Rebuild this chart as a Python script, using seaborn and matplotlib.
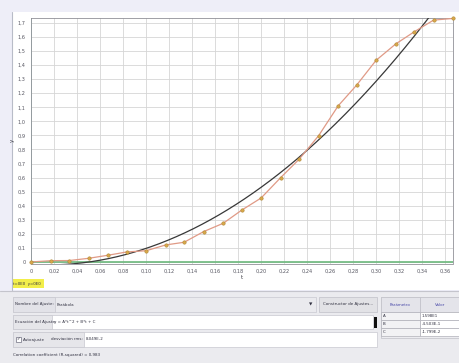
import numpy as np
import pandas as pd
import matplotlib
matplotlib.use("Agg")
import matplotlib.pyplot as plt
import seaborn as sns
from matplotlib.patches import Rectangle

# Measured position of the falling object (t in s, y in m)
t_vals = [0.000, 0.017, 0.033, 0.050, 0.067, 0.083, 0.100, 0.117, 0.133, 0.150,
          0.167, 0.183, 0.200, 0.217, 0.233, 0.250, 0.267, 0.283, 0.300, 0.317,
          0.333, 0.350, 0.367]
y_vals = [0.000, 0.009, 0.010, 0.026, 0.048, 0.071, 0.080, 0.121, 0.140, 0.216,
          0.275, 0.368, 0.455, 0.600, 0.730, 0.898, 1.110, 1.257, 1.434, 1.550,
          1.636, 1.720, 1.732]

# Parabolic fit parameters  y = A*t^2 + B*t + C
param_names = ["A", "B", "C"]
param_values = [1.598e1, -4.503e-1, -1.799e-2]
param_labels = ["1.598E1", "-4.503E-1", "-1.799E-2"]

x_ticks = [0.00, 0.02, 0.04, 0.06, 0.08, 0.10, 0.12, 0.14, 0.16, 0.18,
           0.20, 0.22, 0.24, 0.26, 0.28, 0.30, 0.32, 0.34, 0.36]
y_ticks = [0.0, 0.1, 0.2, 0.3, 0.4, 0.5, 0.6, 0.7, 0.8, 0.9,
           1.0, 1.1, 1.2, 1.3, 1.4, 1.5, 1.6, 1.7]

sns.set_theme(style="white")
plt.rcParams["font.family"] = ["DejaVu Sans"]

W, H = 459, 363
fig = plt.figure(figsize=(W / 100, H / 100), dpi=100)
fig.patch.set_facecolor("#eeeef8")

# Background layer in pixel coordinates for the window furniture
bg = fig.add_axes([0, 0, 1, 1], zorder=0)
bg.set_xlim(0, W)
bg.set_ylim(H, 0)
bg.axis("off")

def box(x0, y0, x1, y1, fc, ec="none", lw=0.5):
    bg.add_patch(Rectangle((x0, y0), x1 - x0, y1 - y0, facecolor=fc,
                           edgecolor=ec, linewidth=lw))

def txt(x, y, s, size=2.9, color="#303040", ha="left"):
    bg.text(x, y, s, fontsize=size, color=color, ha=ha, va="center")

box(12, 12, W, 290, "white")
bg.plot([12, 12], [12, 290], color="#b8bcc8", lw=0.8)
box(12, 279, 44, 288, "#f2ee4a")
txt(13, 283.5, "t=0E0  y=0E0", size=2.8)
bg.plot([0, W], [291, 291], color="#c4c4cc", lw=0.8)
box(0, 292, W, 363, "#ebebef")

# Fit editor rows
box(13, 297, 316, 312, "#eaeaee", "#c8c8d0")
box(13, 297, 55, 312, "#e2e2e8", "#c8c8d0")
txt(15, 304.5, "Nombre del Ajuste:")
txt(57, 304.5, "Parábola")
txt(311, 304.5, "▼", size=3.2, ha="center")
box(319, 297, 377, 312, "#e2e2e6", "#c0c0c8")
txt(348, 304.5, "Constructor de Ajustes...", ha="center")
box(13, 315, 373, 329, "white", "#c8c8d0")
box(13, 315, 52, 329, "#e6e6ea", "#c8c8d0")
txt(15, 322, "Ecuación del Ajuste:")
txt(54, 322, "y = A*t^2 + B*t + C")
box(374, 317, 377, 328, "#101010")
box(13, 332, 377, 347, "white", "#c8c8d0")
box(13, 332, 84, 347, "#e6e6ea", "#c8c8d0")
box(16, 337, 21, 342, "white", "#707080")
txt(16.3, 339.5, "✓", size=3.2)
txt(23, 339.5, "Autoajuste")
txt(51, 339.5, "desviación rms:")
txt(86, 339.5, "8,049E-2")
txt(13, 355, "Correlation coefficient (R-squared) = 0,983")

# Parameter table
box(381, 297, W, 338, "#ececf0", "#c0c0c8")
box(381, 297, 420, 312, "#e4e4ea", "#c0c0c8")
box(420, 297, W, 312, "#e4e4ea", "#c0c0c8")
txt(400, 304.5, "Parámetro", color="#4848a8", ha="center")
txt(440, 304.5, "Valor", color="#4848a8", ha="center")
for i, (nm, lab) in enumerate(zip(param_names, param_labels)):
    y0 = 312 + i * 8
    box(381, y0, 420, y0 + 8, "#f2f2f4", "#b0b0b8")
    box(420, y0, W, y0 + 8, "white", "#b0b0b8")
    txt(383, y0 + 4, nm)
    txt(422, y0 + 4, lab)

# Main plot area
L, R, T, B = 31, 453, 18, 263.5
ax = fig.add_axes([L / W, 1 - B / H, (R - L) / W, (B - T) / H], zorder=2)
ax.set_facecolor("white")

df = pd.DataFrame({"t": t_vals, "y": y_vals})
t_fit = np.linspace(0, 0.37, 300)
A, Bc, C = param_values
fit_df = pd.DataFrame({"t": t_fit, "y": A * t_fit ** 2 + Bc * t_fit + C})

ax.set_xlim(-0.0002, 0.3669)
ax.set_ylim(-0.011, 1.735)
ax.set_xticks(x_ticks)
ax.set_yticks(y_ticks)
ax.set_xticklabels(["0" if v == 0 else f"{v:.2f}".replace(".", ",") for v in x_ticks])
ax.set_yticklabels(["0" if v == 0 else f"{v:.1f}".replace(".", ",") for v in y_ticks])
ax.grid(True, color="#d6d6d6", lw=0.6)
ax.tick_params(axis="both", labelsize=3.6, colors="#555560", length=2,
               width=0.5, pad=2, direction="out")
for s in ax.spines.values():
    s.set_color("#909098")
    s.set_linewidth(0.6)

ax.axhline(0, color="#6cb87c", lw=1.2, zorder=1)
ax.axvline(0, color="#a8dcc8", lw=1.2, zorder=1)

sns.lineplot(data=fit_df, x="t", y="y", ax=ax, color="#383838", lw=0.9,
             zorder=3)
sns.lineplot(data=df, x="t", y="y", ax=ax, color="#e09a86", lw=0.9,
             zorder=4)
sns.scatterplot(data=df, x="t", y="y", ax=ax, color="#d8a84a", s=6,
                edgecolor="#b08838", linewidth=0.4, zorder=5, clip_on=False)

ax.set_xlabel("t", fontsize=4, color="#404048", labelpad=1)
ax.set_ylabel("y", fontsize=4, color="#404048", labelpad=2)

fig.savefig("out.png", dpi=100, facecolor=fig.get_facecolor())
